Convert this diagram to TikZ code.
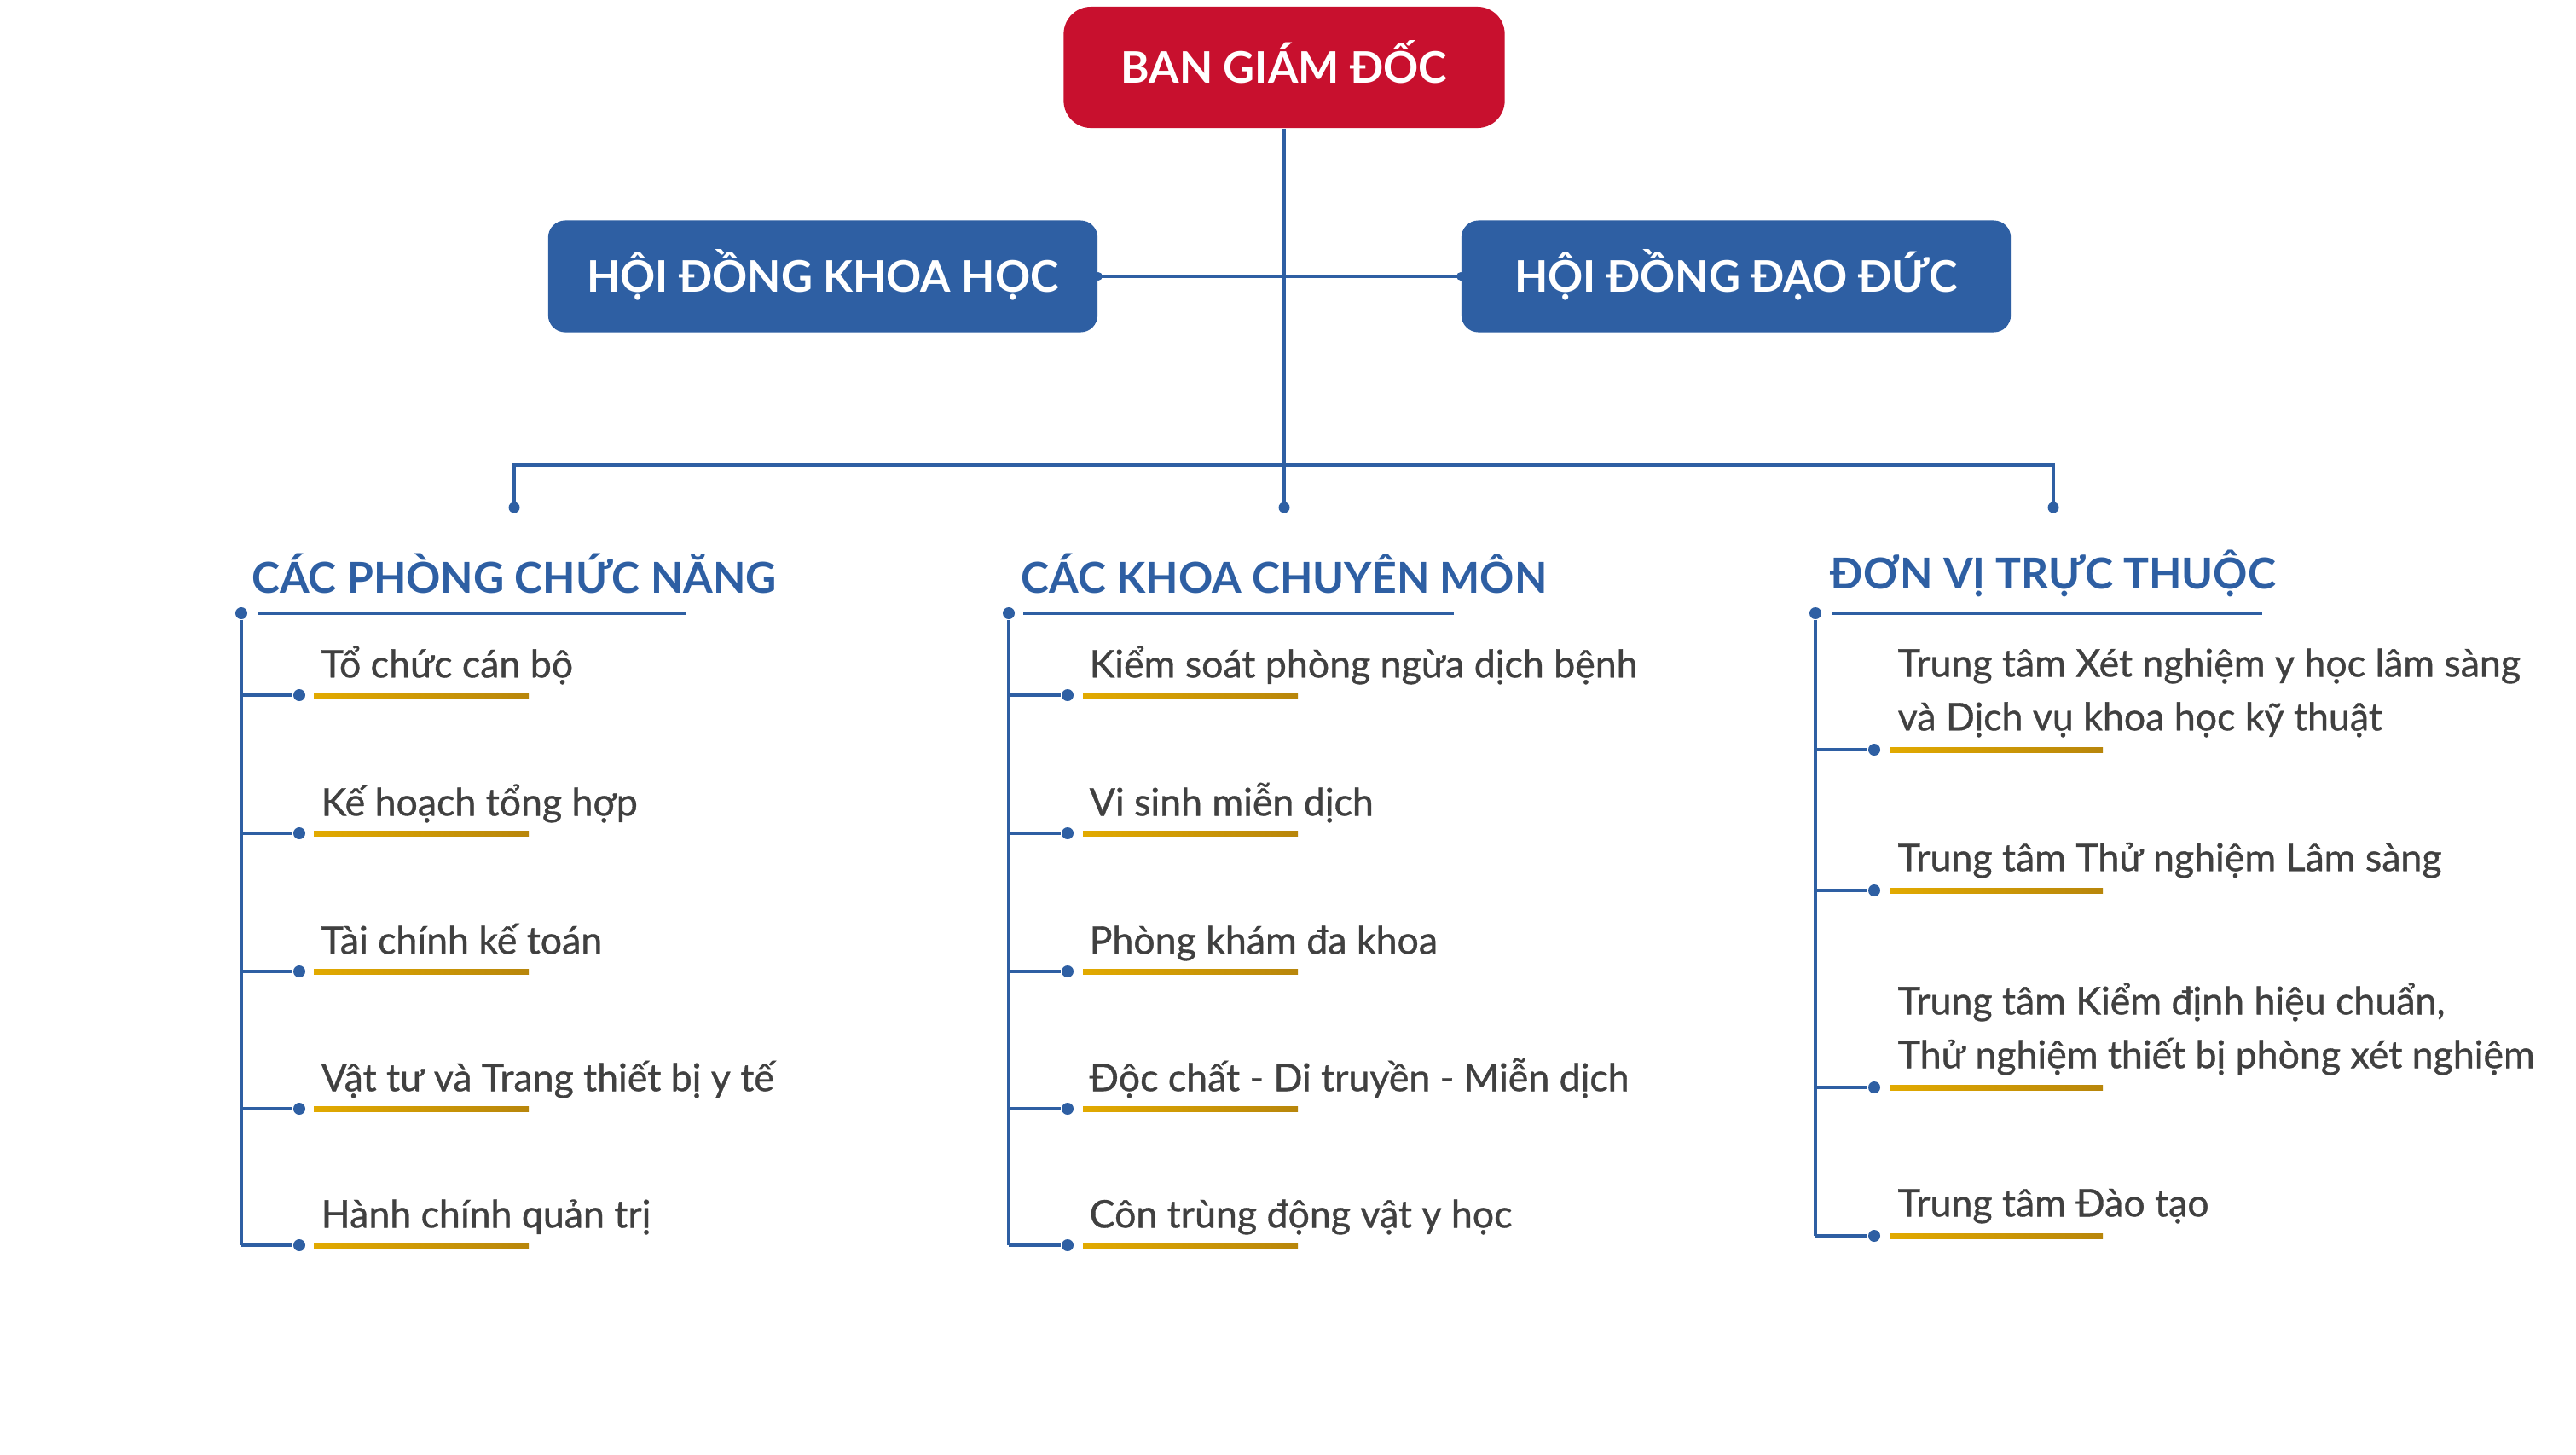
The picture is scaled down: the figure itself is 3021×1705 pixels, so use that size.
\documentclass[tikz,border=0pt]{standalone}
\usepackage{fontspec}
\setmainfont{Lato}
\newfontfamily\itemfont[FakeBold=0.8]{Lato}
\usetikzlibrary{backgrounds}
\definecolor{redbox}{HTML}{C8102E}
\definecolor{bluebox}{HTML}{2E5FA3}
\definecolor{goldA}{HTML}{E2AA00}
\definecolor{goldB}{HTML}{B8860B}
\definecolor{itemgray}{HTML}{404040}
\tikzset{
  topbox/.style={fill=redbox, rounded corners=0.32cm, text=white, inner sep=0pt,
    text height=0.42cm, text depth=0.05cm,
    minimum width=5.17cm, minimum height=1.42cm, font=\fontsize{14.5}{17}\selectfont\bfseries},
  hdbox/.style={fill=bluebox, rounded corners=0.2cm, text=white, inner sep=0pt,
    text height=0.42cm, text depth=0.05cm,
    minimum width=6.44cm, minimum height=1.31cm, font=\fontsize{14.5}{17}\selectfont\bfseries},
  busline/.style={draw=bluebox, line width=1.3pt},
  colline/.style={draw=bluebox, line width=0.9pt},
  headline/.style={draw=bluebox, line width=1.3pt},
  dropdot/.style={circle, fill=bluebox, inner sep=0pt, minimum size=0.13cm},
  idot/.style={circle, fill=bluebox, inner sep=0pt, minimum size=0.14cm},
  headtext/.style={text=bluebox, inner sep=0pt, font=\fontsize{14.2}{17}\selectfont\bfseries},
  itemtext/.style={text=itemgray, inner sep=0pt, anchor=south west, text depth=0pt,
    align=left, font=\fontsize{12.7}{17.9}\selectfont\itemfont},
  goldbar/.style={left color=goldA, right color=goldB}
}
\begin{document}
\begin{tikzpicture}[x=0.01cm,y=-0.01cm]
\useasboundingbox (0,0) rectangle (3021,1705);
% top level
\node[topbox] (top) at (1506,79) {BAN GIÁM ĐỐC};
\node[hdbox] (hk) at (965,324) {HỘI ĐỒNG KHOA HỌC};
\node[hdbox] (hd) at (2036,324) {HỘI ĐỒNG ĐẠO ĐỨC};
\coordinate (bus) at (1506,545);
\node[dropdot] (d1) at (603,595) {};
\node[dropdot] (d2) at (1506,595) {};
\node[dropdot] (d3) at (2408,595) {};
\begin{scope}[on background layer]
  \draw[busline] (top.south) -- (bus);
  \draw[busline] (hk.east) -- (hd.west);
  \fill[bluebox] (hk.east) circle (5);
  \fill[bluebox] (hd.west) circle (5);
  \draw[busline] (d1.center) |- (bus) -| (d3.center);
  \draw[colline] (bus) -- (d2.center);
\end{scope}
% headings
\node[headtext] (h1) at (603,672) {CÁC PHÒNG CHỨC NĂNG};
\node[headtext] (h2) at (1506,672) {CÁC KHOA CHUYÊN MÔN};
\node[headtext] (h3) at (2408,672) {ĐƠN VỊ TRỰC THUỘC};
\node[idot] (k1) at (283,719) {};
\node[idot] (k2) at (1183,719) {};
\node[idot] (k3) at (2129,719) {};
\draw[headline] (302,719) -- (805,719);
\draw[headline] (1200,719) -- (1705,719);
\draw[headline] (2148,719) -- (2653,719);
% column 1
\foreach \i/\y/\t in {1/815/{Tổ chức cán bộ},2/977/{Kế hoạch tổng hợp},3/1139/{Tài chính kế toán},4/1300/{Vật tư và Trang thiết bị y tế},5/1460/{Hành chính quản trị}}{
  \node[idot] (a\i) at (351,\y) {};
  \draw[colline] (k1 |- a\i) -- (a\i);
  \fill[goldbar] (368,\y-3) rectangle (620,\y+3);
  \node[itemtext] (ta\i) at (376,\y-20) {\t};
}
\draw[colline] (k1) -- (k1 |- a5);
% column 2
\foreach \i/\y/\t in {1/815/{Kiểm soát phòng ngừa dịch bệnh},2/977/{Vi sinh miễn dịch},3/1139/{Phòng khám đa khoa},4/1300/{Độc chất - Di truyền - Miễn dịch},5/1460/{Côn trùng động vật y học}}{
  \node[idot] (b\i) at (1252,\y) {};
  \draw[colline] (k2 |- b\i) -- (b\i);
  \fill[goldbar] (1270,\y-3) rectangle (1522,\y+3);
  \node[itemtext] (tb\i) at (1277,\y-20) {\t};
}
\draw[colline] (k2) -- (k2 |- b5);
% column 3
\node[idot] (c1) at (2198,879) {};
\node[idot] (c2) at (2198,1044) {};
\node[idot] (c3) at (2198,1275) {};
\node[idot] (c4) at (2198,1449) {};
\foreach \i in {1,2,3,4}{
  \draw[colline] (k3 |- c\i) -- (c\i);
  \fill[goldbar] ([xshift=0.18cm,yshift=-0.03cm]c\i.center) rectangle ([xshift=2.68cm,yshift=0.03cm]c\i.center);
}
\draw[colline] (k3) -- (k3 |- c4);
\node[itemtext] (tc1) at (2225,879-22) {Trung tâm Xét nghiệm y học lâm sàng\\và Dịch vụ khoa học kỹ thuật};
\node[itemtext] (tc2) at (2225,1044-22) {Trung tâm Thử nghiệm Lâm sàng};
\node[itemtext] (tc3) at (2225,1275-22) {Trung tâm Kiểm định hiệu chuẩn,\\Thử nghiệm thiết bị phòng xét nghiệm};
\node[itemtext] (tc4) at (2225,1449-22) {Trung tâm Đào tạo};
\end{tikzpicture}
\end{document}
